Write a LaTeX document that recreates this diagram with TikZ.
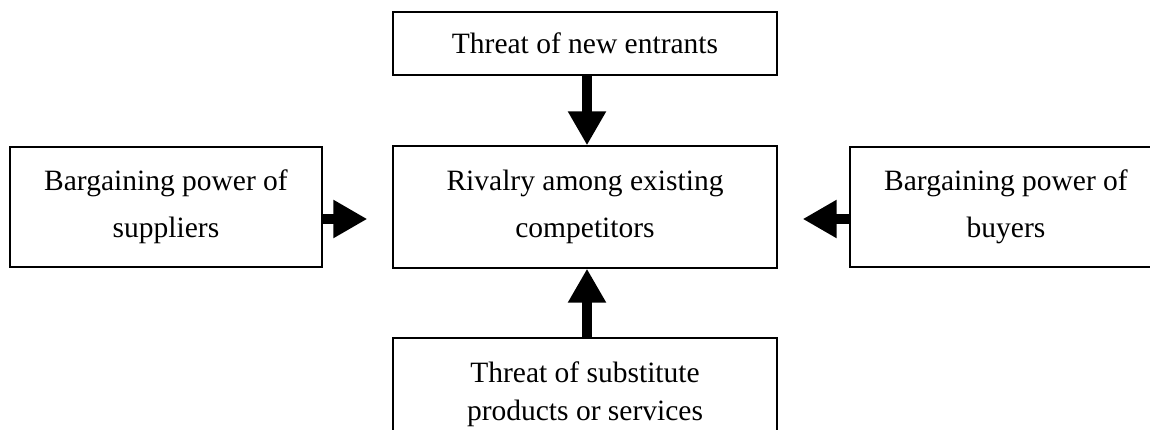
\documentclass[tikz,border=0pt]{standalone}
\usepackage{fontspec}
\setmainfont{Liberation Serif}
\usetikzlibrary{arrows.meta}
\begin{document}
\begin{tikzpicture}[x=1pt,y=-1pt,
  box/.style={draw=black, line width=1.4pt, rectangle, align=center, inner sep=0pt,
    font=\fontsize{29.5}{47}\selectfont},
  force/.style={line width=10pt, -{Triangle[length=34pt,width=36pt]}}]
\useasboundingbox (0,0) rectangle (1150,430);
\node[box, minimum width=384pt, minimum height=63pt] (top) at (585,43.5) {Threat of new entrants};
\node[box, minimum width=384pt, minimum height=122pt] (mid) at (585,207) {Rivalry among existing\\competitors};
\node[box, minimum width=312pt, minimum height=120pt] (left) at (166,207) {Bargaining power of\\suppliers};
\node[box, minimum width=312pt, minimum height=120pt] (right) at (1006,207) {Bargaining power of\\buyers};
\node[box, minimum width=384pt, minimum height=112pt, font=\fontsize{29.5}{38}\selectfont] (bot) at (585,394) {Threat of substitute\\products or services};
\draw[force] ([xshift=2pt]top.south) -- ([xshift=2pt]top.south |- mid.north);
\draw[force] ([xshift=2pt]bot.north) -- ([xshift=2pt]bot.north |- mid.south);
\draw[force] ([yshift=-12pt]left.east) -- ([yshift=-12pt,xshift=-25pt]left.east -| mid.west);
\draw[force] ([yshift=-12pt]right.west) -- ([yshift=-12pt,xshift=25pt]right.west -| mid.east);
\end{tikzpicture}
\end{document}
